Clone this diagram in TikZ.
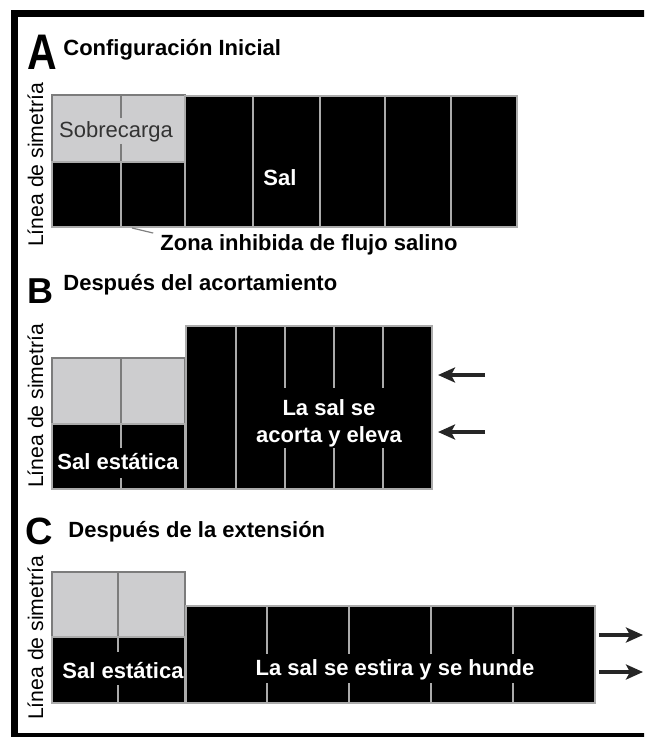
\documentclass[tikz,border=0pt]{standalone}
\usepackage{fontspec}
\setmainfont{Liberation Sans}
\usetikzlibrary{arrows.meta}

\definecolor{overburden}{HTML}{CDCDCF}
\definecolor{edgegray}{HTML}{7C7C7C}
\definecolor{linegray}{HTML}{ABABAB}
\definecolor{inkgray}{HTML}{333333}

\tikzset{
  saltblock/.style={fill=black, draw=linegray, line width=0.7pt},
  loadblock/.style={fill=overburden, draw=edgegray, line width=0.7pt},
  divider/.style={draw=linegray, line width=0.8pt},
  loaddivider/.style={draw=edgegray, line width=0.9pt},
  bigletter/.style={font=\bfseries\fontsize{#1}{#1}\selectfont, inner sep=0pt, anchor=base west},
  heading/.style={font=\bfseries\fontsize{11}{13}\selectfont, inner sep=0pt, anchor=base west},
  saltlabel/.style={font=\bfseries\fontsize{11}{13.5}\selectfont, text=white, inner sep=0pt, align=center},
  symmetry/.style={font=\fontsize{10.6}{12}\selectfont, rotate=90, inner sep=0pt, anchor=base},
  pointer/.style={draw=gray, line width=0.6pt, shorten >=3.5pt},
  push/.style={-{Stealth[length=8.5pt, width=7.5pt, inset=2pt]}, line width=2.2pt, draw=black!85},
}

\begin{document}
\begin{tikzpicture}[x=0.5pt, y=-0.5pt]
    \path[use as bounding box, clip] (0,0) rectangle (644,737);
    % Frame
    \draw[line width=3.5pt] (14.5,13.5) rectangle (700,736.5);

    % Panel A
    \node[bigletter=25] (letterA) at (27,70) {\scalebox{0.82}[1]{A}};
    \node[heading] (titleA) at (63,56) {Configuración Inicial};
    \node[symmetry] (axisA) at (43,165) {Línea de simetría};
    \draw[loadblock] (52,95) rectangle (185,162);
    \draw[loaddivider] (121,95) -- (121,118) (121,144) -- (121,162);
    \draw[saltblock] (52,162) rectangle (121,227);
    \draw[saltblock] (121,162) rectangle (185,227);
    \foreach \xa/\xb in {185/253, 253/320, 320/385, 385/451, 451/517} {
        \draw[saltblock] (\xa,96) rectangle (\xb,227);
    }
    \node[font=\fontsize{11}{13}\selectfont, text=inkgray, inner sep=0pt, anchor=base] (loadA) at (116,138) {Sobrecarga};
    \node[saltlabel, anchor=base] (saltA) at (280,186) {Sal};
    \node[heading] (zoneA) at (160,251) {Zona inhibida de flujo salino};
    \coordinate (zonetip) at (132,228);
    \draw[pointer] (zonetip) -- (zoneA.north west);

    % Panel B
    \node[bigletter=18] (letterB) at (27,303) {B};
    \node[heading] (titleB) at (63,291) {Después del acortamiento};
    \node[symmetry] (axisB) at (43,406) {Línea de simetría};
    \draw[loadblock] (52,358) rectangle (185,424);
    \draw[loaddivider] (121,358) -- (121,424);
    \draw[saltblock] (52,424) rectangle (185,489);
    \draw[divider] (121,424) -- (121,448) (121,478) -- (121,489);
    \draw[saltblock] (186,326) rectangle (432,489);
    \draw[divider] (236,326) -- (236,489);
    \foreach \x in {285,334,383} {
        \draw[divider] (\x,326) -- (\x,388) (\x,448) -- (\x,489);
    }
    \node[saltlabel, anchor=base] (staticB) at (118,469) {Sal estática};
    \node[saltlabel] (riseB) at (329,423) {La sal se\\acorta y eleva};
    \foreach \y [count=\i] in {375,432} {
        \coordinate (tailB\i) at (485,\y);
        \coordinate (tipB\i) at (438,\y);
        \draw[push] (tailB\i) -- (tipB\i);
    }

    % Panel C
    \node[bigletter=19] (letterC) at (25,544) {C};
    \node[heading] (titleC) at (68,537) {Después de la extensión};
    \node[symmetry] (axisC) at (43,638) {Línea de simetría};
    \draw[loadblock] (52,572) rectangle (185,637);
    \draw[loaddivider] (118,572) -- (118,637);
    \draw[saltblock] (52,637) rectangle (185,703);
    \draw[divider] (118,637) -- (118,652) (118,685) -- (118,703);
    \draw[saltblock] (186,606) rectangle (595,703);
    \foreach \x in {267,349,431,513} {
        \draw[divider] (\x,606) -- (\x,654) (\x,683) -- (\x,703);
    }
    \node[saltlabel, anchor=base] (staticC) at (123,678) {Sal estática};
    \node[saltlabel, anchor=base] (sinkC) at (395,675) {La sal se estira y se hunde};
    \foreach \y [count=\i] in {635,672} {
        \coordinate (tailC\i) at (599,\y);
        \coordinate (tipC\i) at (643,\y);
        \draw[push] (tailC\i) -- (tipC\i);
    }
\end{tikzpicture}
\end{document}
